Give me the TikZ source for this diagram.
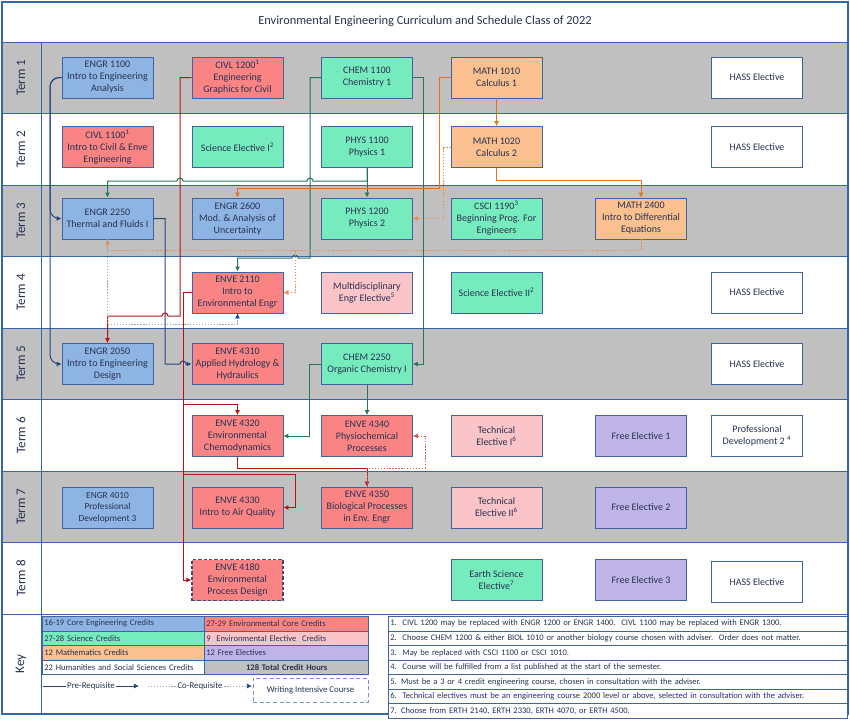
\documentclass[tikz,border=0pt]{standalone}
\usepackage{fontspec}
\setmainfont{Carlito}
\usepackage{tikz}
\usetikzlibrary{arrows.meta}

\definecolor{boxline}{RGB}{65,100,160}
\definecolor{rowline}{RGB}{55,100,170}
\definecolor{rowgray}{RGB}{192,192,192}
\definecolor{coreng}{RGB}{142,180,227}
\definecolor{envcore}{RGB}{250,132,132}
\definecolor{science}{RGB}{118,236,190}
\definecolor{maths}{RGB}{250,192,144}
\definecolor{envelec}{RGB}{251,196,200}
\definecolor{freeel}{RGB}{190,180,232}
\definecolor{txt}{RGB}{40,50,80}
\definecolor{prenavy}{RGB}{38,68,125}
\definecolor{prered}{RGB}{180,20,20}
\definecolor{pregreen}{RGB}{38,118,88}
\definecolor{preorange}{RGB}{228,112,40}
\definecolor{cogray}{RGB}{160,165,180}

\begin{document}
\begin{tikzpicture}[x=0.75pt,y=0.75pt,yscale=-1,
  course/.style={draw=boxline, line width=0.6pt, minimum width=68.25pt, minimum height=30.75pt, inner sep=1pt, align=center, text=txt, font=\fontsize{7.5}{9}\selectfont},
  termlab/.style={rotate=90, text=txt, font=\fontsize{9.8}{11}\selectfont},
  pre/.style={line width=0.75pt, -{Latex[length=3.8pt,width=3.8pt]}},
  co/.style={line width=0.6pt, dash pattern=on 1pt off 1.2pt, -{Latex[length=3.8pt,width=3.8pt]}},
  keycell/.style={draw=boxline, line width=0.5pt, anchor=north west, minimum height=10.875pt, inner xsep=1.5pt, inner ysep=0pt, align=left, text=txt, font=\fontsize{6.4}{8}\selectfont},
  notecell/.style={keycell, text width=341.25pt, font=\fontsize{6.4}{8}\selectfont}
]
\fill[white] (0,0) rectangle (850,722);
\useasboundingbox (0,0) rectangle (850,722);

%Shape: Gray rows
\fill[rowgray] (2,42) rectangle (848,113.5);
\fill[rowgray] (2,185) rectangle (848,256.5);
\fill[rowgray] (2,328) rectangle (848,399.5);
\fill[rowgray] (2,471) rectangle (848,542.5);

%Straight Lines: row borders
\draw[rowline, line width=0.7pt] (2,42) -- (848,42);
\draw[rowline, line width=0.7pt] (2,113.5) -- (848,113.5);
\draw[rowline, line width=0.7pt] (2,185) -- (848,185);
\draw[rowline, line width=0.7pt] (2,256.5) -- (848,256.5);
\draw[rowline, line width=0.7pt] (2,328) -- (848,328);
\draw[rowline, line width=0.7pt] (2,399.5) -- (848,399.5);
\draw[rowline, line width=0.7pt] (2,471) -- (848,471);
\draw[rowline, line width=0.7pt] (2,542.5) -- (848,542.5);
\draw[rowline, line width=0.7pt] (2,614) -- (848,614);
\draw[rowline, line width=0.7pt] (41,42) -- (41,714);
%Shape: Frame
\draw[rowline, line width=0.8pt] (2,2) rectangle (848,714);

%Text Node: title and terms
\node[text=txt, font=\fontsize{9.3}{11}\selectfont] (title) at (425,21) {Environmental Engineering Curriculum and Schedule Class of 2022};
\node[termlab] (term1) at (21,77.75) {Term 1};
\node[termlab] (term2) at (21,149.25) {Term 2};
\node[termlab] (term3) at (21,220.75) {Term 3};
\node[termlab] (term4) at (21,292.25) {Term 4};
\node[termlab] (term5) at (21,363.75) {Term 5};
\node[termlab] (term6) at (21,435.25) {Term 6};
\node[termlab] (term7) at (21,506.75) {Term 7};
\node[termlab] (term8) at (21,578.25) {Term 8};
\node[termlab] (keylab) at (21,664) {Key};

%Shape: Term 1
\node[course, fill=coreng] (engr1100) at (107.5,77.5) {ENGR 1100\\Intro to Engineering\\Analysis};
\node[course, fill=envcore] (civl1200) at (237.5,77.5) {CIVL 1200\textsuperscript{1}\\Engineering\\Graphics for Civil};
\node[course, fill=science] (chem1100) at (367,77.5) {CHEM 1100\\Chemistry 1};
\node[course, fill=maths] (math1010) at (496.5,77.5) {MATH 1010\\Calculus 1};
\node[course, fill=white] (hass1) at (757,77.5) {HASS Elective};
%Shape: Term 2
\node[course, fill=envcore] (civl1100) at (107.5,147) {CIVL 1100\textsuperscript{1}\\Intro to Civil \& Enve\\Engineering};
\node[course, fill=science] (scie1) at (237.5,147) {Science Elective I\textsuperscript{2}};
\node[course, fill=science] (phys1100) at (367,147) {PHYS 1100\\Physics 1};
\node[course, fill=maths] (math1020) at (496.5,147) {MATH 1020\\Calculus 2};
\node[course, fill=white] (hass2) at (757,147) {HASS Elective};
%Shape: Term 3
\node[course, fill=coreng] (engr2250) at (107.5,218.5) {ENGR 2250\\Thermal and Fluids I};
\node[course, fill=coreng] (engr2600) at (237.5,218.5) {ENGR 2600\\Mod. \& Analysis of\\Uncertainty};
\node[course, fill=science] (phys1200) at (367,218.5) {PHYS 1200\\Physics 2};
\node[course, fill=science] (csci1190) at (496.5,218.5) {CSCI 1190\textsuperscript{3}\\Beginning Prog. For\\Engineers};
\node[course, fill=maths] (math2400) at (641,218.5) {MATH 2400\\Intro to Differential\\Equations};
%Shape: Term 4
\node[course, fill=envcore] (enve2110) at (237.5,292.5) {ENVE 2110\\Intro to\\Environmental Engr};
\node[course, fill=envelec] (multi) at (367,292.5) {Multidisciplinary\\Engr Elective\textsuperscript{5}};
\node[course, fill=science] (scie2) at (496.5,292.5) {Science Elective II\textsuperscript{2}};
\node[course, fill=white] (hass4) at (757,292.5) {HASS Elective};
%Shape: Term 5
\node[course, fill=coreng] (engr2050) at (107.5,364) {ENGR 2050\\Intro to Engineering\\Design};
\node[course, fill=envcore] (enve4310) at (237.5,364) {ENVE 4310\\Applied Hydrology \&\\Hydraulics};
\node[course, fill=science] (chem2250) at (367,364) {CHEM 2250\\Organic Chemistry I};
\node[course, fill=white] (hass5) at (757,364) {HASS Elective};
%Shape: Term 6
\node[course, fill=envcore] (enve4320) at (237.5,436) {ENVE 4320\\Environmental\\Chemodynamics};
\node[course, fill=envcore] (enve4340) at (367,436) {ENVE 4340\\Physiochemical\\Processes};
\node[course, fill=envelec] (tech1) at (496.5,436) {Technical\\Elective I\textsuperscript{6}};
\node[course, fill=freeel] (free1) at (641,436) {Free Elective 1};
\node[course, fill=white] (profdev2) at (757,436) {Professional\\Development 2 \textsuperscript{4}};
%Shape: Term 7
\node[course, fill=coreng, font=\fontsize{7}{8.6}\selectfont] (engr4010) at (107.5,507.5) {ENGR 4010\\Professional\\Development 3};
\node[course, fill=envcore] (enve4330) at (237.5,507.5) {ENVE 4330\\Intro to Air Quality};
\node[course, fill=envcore] (enve4350) at (367,507.5) {ENVE 4350\\Biological Processes\\in Env. Engr};
\node[course, fill=envelec] (tech2) at (496.5,507.5) {Technical\\Elective II\textsuperscript{6}};
\node[course, fill=freeel] (free2) at (641,507.5) {Free Elective 2};
%Shape: Term 8
\node[course, fill=envcore, draw=boxline!80!black, line width=0.9pt, dash pattern=on 2.5pt off 1.5pt] (enve4180) at (237.5,580) {ENVE 4180\\Environmental\\Process Design};
\node[course, fill=science] (earth) at (496.5,580) {Earth Science\\Elective\textsuperscript{7}};
\node[course, fill=freeel] (free3) at (641,580) {Free Elective 3};
\node[course, fill=white] (hass8) at (757,582) {HASS Elective};

%Connector: blue
\draw[pre, prenavy, rounded corners=7pt] (engr1100.west) -- (50,77.5) -- (50,218.5) -- (engr2250.west);
\draw[pre, prenavy, rounded corners=7pt] (engr1100.west) -- (50,77.5) -- (50,364) -- (engr2050.west);
\draw[pre, prenavy] (engr2250.east) -- (165,218.5) -- (165,364) -- (180,364) arc[start angle=180, end angle=360, radius=3] -- (enve4310.west);
%Connector: red
\draw[pre, prered] (civl1200.west) -- (180,77.5) -- (180,316) -- (168,316) arc[start angle=0, end angle=-180, radius=3] -| (engr2050.north);
\draw[pre, prered] (enve2110.west) -- (183,292.5) -- (183,404) -| (enve4320.north);
\draw[pre, prered] (enve2110.west) -- (183,292.5) -- (183,474) -- (295,474) |- (enve4330.east);
\draw[pre, prered] (enve2110.west) -- (183,292.5) |- (enve4180.west);
\draw[pre, prered] (enve4320.south) -- (237.5,468) -| (enve4350.north);
\draw[co, prered!70] (enve4350.north) -- (367,468) -- (425,468) |- (enve4340.east);
%Connector: green
\draw[pre, pregreen] (phys1100.south) -- (phys1200.north);
\draw[pre, pregreen] (phys1100.south) -- (367,181) -- (313,181) arc[start angle=0, end angle=-180, radius=3] -- (183,181) arc[start angle=0, end angle=-180, radius=3] -| (engr2250.north);
\draw[pre, pregreen] (chem1100.west) -- (310,77.5) -- (310,258) -- (298,258) arc[start angle=0, end angle=-180, radius=3] -| (enve2110.north);
\draw[pre, pregreen] (chem1100.east) -- (423,77.5) |- (chem2250.east);
\draw[pre, pregreen] (chem2250.west) -- (309,364) |- (enve4320.east);
\draw[pre, pregreen] (chem2250.south) -- (enve4340.north);
%Connector: orange
\draw[pre, preorange] (math1010.south) -- (math1020.north);
\draw[pre, preorange] (math1010.west) -- (439,77.5) -- (439,188) -| (engr2600.north);
\draw[pre, preorange] (math1020.south) -- (496.5,180) -| (math2400.north);
\draw[co, preorange!80] (math1020.west) -- (443,147) |- (phys1200.east);
\draw[co, preorange!80] (math2400.south) -- (641,250) -| (engr2250.south);
\draw[co, preorange!80] (math2400.south) -- (641,250) -- (295,250) |- (enve2110.east);
\draw[co, cogray, -{Latex[length=3.8pt,width=3.8pt,color=prenavy]}] (engr2250.south) -- (107.5,324) -| (enve2110.south);

%Shape: Key table
\node[keycell, fill=coreng, text width=118.5pt] (kcore) at (42,616) {16-19 Core Engineering Credits};
\node[keycell, fill=envcore, text width=120pt] (kenv) at (204,616) {27-29 Environmental Core Credits};
\node[keycell, fill=science, text width=118.5pt] (ksci) at (42,630.5) {27-28 Science Credits};
\node[keycell, fill=envelec, text width=120pt] (kenvel) at (204,630.5) {9\ \ Environmental Elective\ \ Credits};
\node[keycell, fill=maths, text width=118.5pt] (kmath) at (42,645) {12 Mathematics Credits};
\node[keycell, fill=freeel, text width=120pt] (kfree) at (204,645) {12 Free Electives};
\node[keycell, fill=white, text width=118.5pt] (khass) at (42,659.5) {22 Humanities and Social Sciences Credits};
\node[keycell, fill=rowgray, text width=120pt, align=center, draw=rowline, line width=1pt, font=\fontsize{6.4}{8}\selectfont\bfseries] (ktotal) at (204,659.5) {128 Total Credit Hours};

%Legend
\coordinate (preA) at (43,686);
\coordinate (preB) at (139,686);
\coordinate (coA) at (148,686);
\coordinate (coB) at (252,686);
\draw[pre, prenavy, line width=0.6pt] (preA) -- node[fill=white, inner sep=1pt, text=txt, font=\fontsize{6.6}{8}\selectfont] (prelab) {Pre-Requisite} (preB);
\draw[co, cogray, -{Latex[length=3.8pt,width=3.8pt,color=prenavy]}] (coA) -- node[fill=white, inner sep=1pt, text=txt, font=\fontsize{6.6}{8}\selectfont] (colab) {Co-Requisite} (coB);
\node[draw=boxline!70, line width=0.7pt, dash pattern=on 3pt off 2pt, minimum width=86.25pt, minimum height=18pt, text=txt, font=\fontsize{6.6}{8}\selectfont] (wic) at (310.5,690) {Writing Intensive Course};

%Shape: Notes
\node[notecell, fill=white] (note1) at (388,616) {1.\ \ CIVL 1200 may be replaced with ENGR 1200 or ENGR 1400.\ \ CIVL 1100 may be replaced with ENGR 1300.};
\node[notecell, fill=white] (note2) at (388,630.57) {2.\ \ Choose CHEM 1200 \& either BIOL 1010 or another biology course chosen with adviser.\ \ Order does not matter.};
\node[notecell, fill=white] (note3) at (388,645.14) {3.\ \ May be replaced with CSCI 1100 or CSCI 1010.};
\node[notecell, fill=white] (note4) at (388,659.71) {4.\ \ Course will be fulfilled from a list published at the start of the semester.};
\node[notecell, fill=white] (note5) at (388,674.29) {5. Must be a 3 or 4 credit engineering course, chosen in consultation with the adviser.};
\node[notecell, fill=white] (note6) at (388,688.86) {6.\ \ Technical electives must be an engineering course 2000 level or above, selected in consultation with the adviser.};
\node[notecell, fill=white] (note7) at (388,703.43) {7. Choose from ERTH 2140, ERTH 2330, ERTH 4070, or ERTH 4500.};

\end{tikzpicture}
\end{document}
